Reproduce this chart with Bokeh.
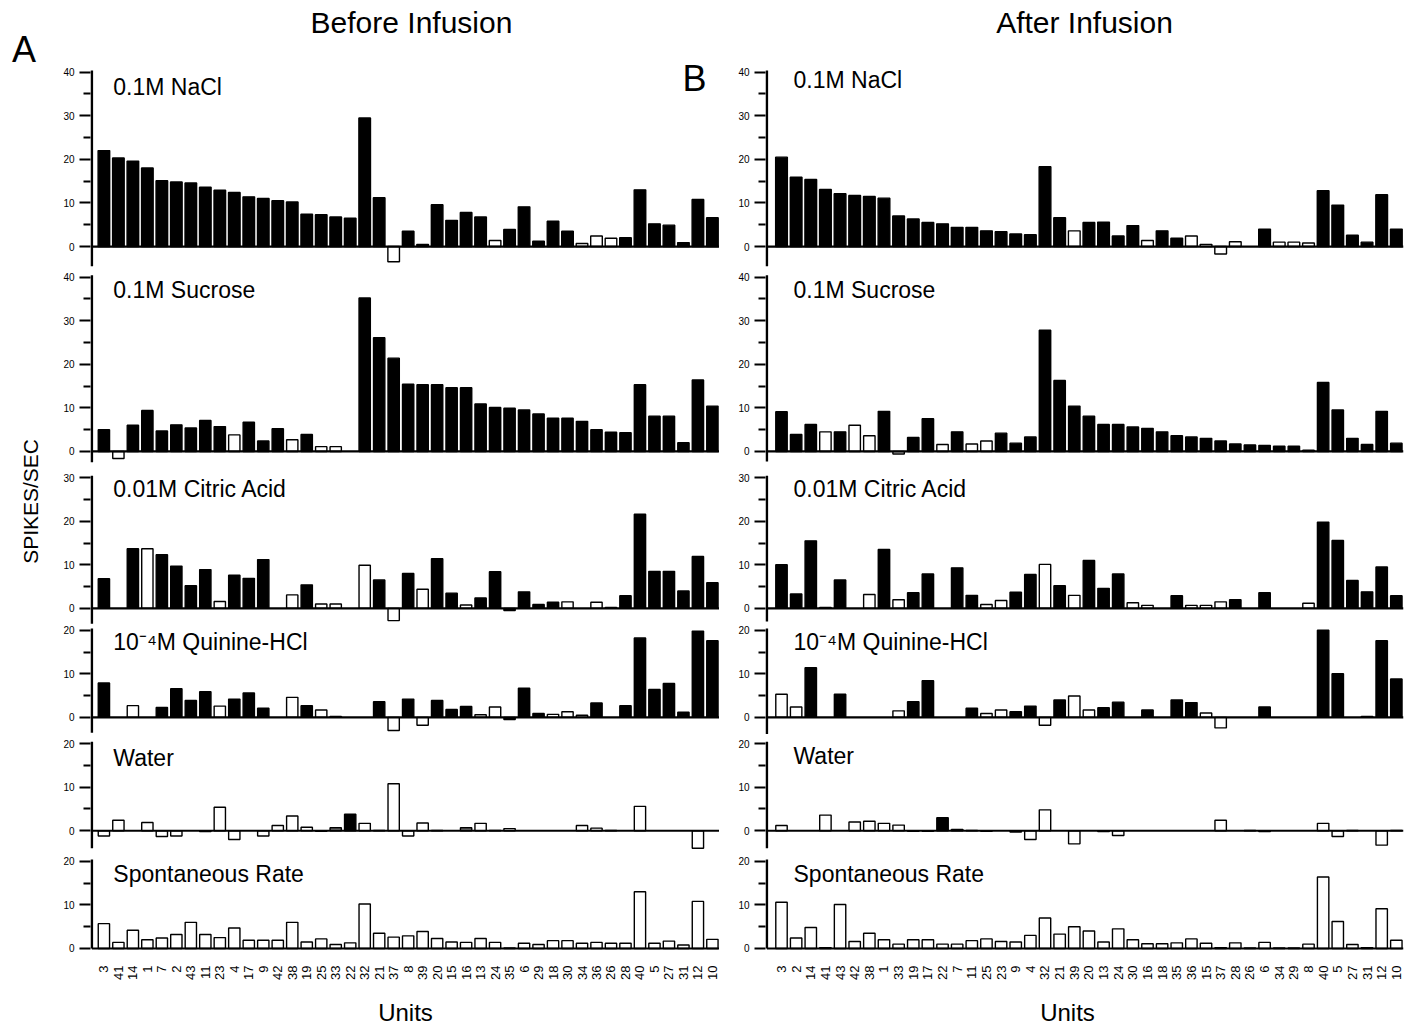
import math
from bokeh.plotting import figure
from bokeh.models import FixedTicker, Label, ColumnDataSource
from bokeh.layouts import row, column
from bokeh.embed import file_html
from bokeh.resources import INLINE

FONT = "Liberation Sans"

# ---------------- data ----------------
units_before = ["3", "41", "14", "1", "7", "2", "43", "11", "23", "4", "17", "9", "42", "38",
                "19", "25", "33", "22", "32", "21", "37", "8", "39", "20", "15", "16", "13", "24",
                "35", "6", "29", "18", "30", "34", "36", "26", "28", "40", "5", "27", "31", "12", "10"]
units_after = ["3", "2", "14", "41", "43", "42", "38", "1", "33", "19", "17", "22", "7", "11",
               "25", "23", "9", "4", "32", "21", "39", "20", "13", "24", "30", "16", "18", "35",
               "36", "15", "37", "28", "26", "6", "34", "29", "8", "40", "5", "27", "31", "12", "10"]

stimuli = ["0.1M NaCl", "0.1M Sucrose", "0.01M Citric Acid",
           "10\u207b\u2074M Quinine-HCl", "Water", "Spontaneous Rate"]
y_max = [40, 40, 30, 20, 20, 20]

# Before infusion (spikes/sec)
nacl_before = [22.0, 20.3, 19.6, 18.0, 15.1, 14.8, 14.6, 13.6, 12.9, 12.4,
               11.4, 11.0, 10.5, 10.2, 7.4, 7.3, 6.8, 6.5, 29.5, 11.2,
               -3.5, 3.5, 0.5, 9.6, 6.0, 7.8, 6.8, 1.4, 3.9, 9.1,
               1.2, 5.8, 3.5, 0.7, 2.4, 1.9, 2.0, 13.0, 5.2, 4.9,
               0.9, 10.8, 6.6]
sucrose_before = [5.0, -1.6, 6.0, 9.4, 4.7, 6.1, 5.4, 7.1, 5.7, 3.8,
                  6.7, 2.4, 5.2, 2.7, 3.9, 1.1, 1.1, 0.0, 35.2, 26.1,
                  21.4, 15.4, 15.3, 15.3, 14.6, 14.6, 10.9, 10.1, 9.9, 9.5,
                  8.6, 7.6, 7.6, 6.9, 5.0, 4.4, 4.3, 15.3, 8.1, 8.1,
                  2.0, 16.4, 10.4]
citric_before = [6.8, 0.0, 13.7, 13.7, 12.3, 9.7, 5.2, 8.9, 1.6, 7.6,
                 6.9, 11.2, 0.0, 3.1, 5.4, 1.0, 1.0, 0.0, 9.9, 6.5,
                 -2.8, 8.0, 4.4, 11.4, 3.5, 0.8, 2.4, 8.4, -0.5, 3.8,
                 0.9, 1.4, 1.5, 0.0, 1.4, 0.2, 2.9, 21.6, 8.5, 8.5,
                 4.0, 11.9, 5.9]
quinine_before = [7.9, 0.0, 2.7, 0.0, 2.3, 6.6, 3.9, 5.9, 2.6, 4.2,
                  5.6, 2.1, 0.0, 4.6, 2.7, 1.7, 0.2, 0.0, 0.0, 3.6,
                  -3.0, 4.2, -1.8, 3.9, 1.8, 2.5, 0.6, 2.4, -0.5, 6.7,
                  0.9, 0.7, 1.3, 0.5, 3.3, 0.0, 2.7, 18.2, 6.4, 7.8,
                  1.2, 19.8, 17.6]
water_before = [-1.2, 2.4, 0.0, 1.9, -1.3, -1.2, 0.0, -0.2, 5.4, -2.0,
                0.0, -1.2, 1.2, 3.4, 0.8, -0.1, 0.7, 3.8, 1.7, 0.1,
                10.8, -1.2, 1.8, 0.1, 0.0, 0.7, 1.7, 0.1, 0.5, 0.0,
                0.0, 0.0, 0.0, 1.2, 0.6, 0.1, 0.0, 5.6, 0.0, 0.0,
                0.0, -4.0, 0.0]
spont_before = [5.7, 1.4, 4.2, 2.0, 2.4, 3.2, 6.0, 3.2, 2.5, 4.7,
                1.9, 1.9, 1.9, 6.0, 1.5, 2.2, 0.9, 1.3, 10.2, 3.5,
                2.6, 2.9, 3.9, 2.3, 1.5, 1.4, 2.3, 1.4, 0.1, 1.2,
                0.9, 1.8, 1.8, 1.2, 1.4, 1.2, 1.2, 13.0, 1.2, 1.7,
                0.8, 10.8, 2.1]

# After infusion (spikes/sec)
nacl_after = [20.5, 15.9, 15.4, 13.1, 12.1, 11.7, 11.5, 11.1, 7.0, 6.3,
              5.5, 5.2, 4.4, 4.4, 3.6, 3.4, 2.9, 2.7, 18.3, 6.6,
              3.6, 5.5, 5.6, 2.4, 4.8, 1.4, 3.6, 1.9, 2.4, 0.5,
              -1.7, 1.1, 0.0, 4.0, 1.0, 1.0, 0.8, 12.8, 9.5, 2.6,
              1.0, 11.9, 4.0]
sucrose_after = [9.1, 3.9, 6.2, 4.5, 4.5, 6.0, 3.6, 9.2, -0.6, 3.2,
                 7.5, 1.6, 4.5, 1.7, 2.4, 4.2, 1.9, 3.3, 27.8, 16.3,
                 10.4, 8.1, 6.2, 6.2, 5.6, 5.3, 4.5, 3.6, 3.3, 3.0,
                 2.4, 1.7, 1.5, 1.4, 1.2, 1.2, 0.3, 15.8, 9.5, 3.0,
                 1.6, 9.2, 1.9]
citric_after = [10.0, 3.3, 15.5, 0.2, 6.5, 0.0, 3.2, 13.5, 2.0, 3.6,
                7.9, 0.0, 9.3, 3.0, 0.9, 1.8, 3.7, 7.8, 10.1, 5.2,
                3.0, 11.0, 4.6, 7.9, 1.3, 0.7, 0.0, 2.9, 0.7, 0.7,
                1.5, 2.0, 0.0, 3.6, 0.0, 0.0, 1.2, 19.8, 15.6, 6.4,
                3.8, 9.5, 2.9]
quinine_after = [5.3, 2.4, 11.4, 0.0, 5.3, 0.0, 0.0, 0.0, 1.5, 3.6,
                 8.4, 0.0, 0.0, 2.1, 0.9, 1.7, 1.3, 2.6, -1.8, 4.0,
                 4.9, 1.7, 2.2, 3.5, 0.0, 1.7, 0.0, 4.0, 3.4, 1.0,
                 -2.4, 0.0, 0.0, 2.4, 0.0, 0.0, 0.0, 20.0, 10.0, 0.0,
                 0.2, 17.6, 8.8]
water_after = [1.2, 0.0, 0.0, 3.6, 0.0, 2.0, 2.2, 1.7, 1.3, -0.1,
               -0.1, 3.0, 0.3, 0.1, -0.1, 0.0, -0.3, -2.0, 4.8, 0.0,
               -3.0, 0.0, -0.2, -1.1, 0.0, 0.0, 0.0, 0.0, 0.0, 0.0,
               2.4, 0.0, 0.1, -0.2, 0.0, 0.0, 0.0, 1.7, -1.3, 0.1,
               0.0, -3.3, 0.1]
spont_after = [10.6, 2.4, 4.8, 0.2, 10.1, 1.6, 3.5, 2.0, 1.0, 2.0,
               2.0, 1.0, 1.0, 1.8, 2.2, 1.6, 1.5, 3.0, 7.0, 3.3,
               5.0, 4.0, 1.5, 4.5, 2.0, 1.1, 1.1, 1.3, 2.2, 1.2,
               0.2, 1.3, 0.1, 1.4, 0.1, 0.1, 1.0, 16.4, 6.2, 0.9,
               0.2, 9.1, 1.9]

# open (non-significant) bars, 1-based positions along the unit axis
open_before = {
    "nacl": [21, 28, 34, 35, 36],
    "sucrose": [2, 10, 14, 16, 17],
    "citric": [4, 9, 14, 16, 17, 19, 21, 23, 26, 33, 35, 36],
    "quinine": [3, 9, 14, 16, 17, 21, 23, 27, 28, 32, 33, 34],
}
open_after = {
    "nacl": [21, 26, 29, 30, 31, 32, 35, 36, 37],
    "sucrose": [4, 6, 7, 9, 12, 14, 15],
    "citric": [7, 9, 15, 16, 19, 21, 25, 26, 29, 30, 31, 37],
    "quinine": [1, 2, 9, 15, 16, 19, 21, 22, 30, 31],
}
water_filled_before = [18]
water_grey_before = [17, 26]
water_filled_after = [12]

# ---------------- layout constants ----------------
OFFSETS = [161, 114, 78, 53, 27, 0]          # vertical stacking of the six panels
AXIS_BOTTOM_L = [-4.5, -2.5, -3.5, -3.5, -4.0, 0.0]
AXIS_BOTTOM_R = [-4.5, -2.3, -3.0, -3.8, -4.0, 0.0]
MAIN_H = 990
Y_START, Y_END = -0.46, 217.43
X_END = 43.49
BLACK, WHITE, GREY = "#000000", "#ffffff", "#7a7a7a"


def fills(n, open_pos=None, filled_pos=None, grey_pos=()):
    out = []
    for i in range(1, n + 1):
        if i in grey_pos:
            out.append(GREY)
        elif filled_pos is not None:
            out.append(BLACK if i in filled_pos else WHITE)
        else:
            out.append(WHITE if i in open_pos else BLACK)
    return out


N = len(units_before)
before_values = [nacl_before, sucrose_before, citric_before, quinine_before, water_before, spont_before]
after_values = [nacl_after, sucrose_after, citric_after, quinine_after, water_after, spont_after]
before_fills = [fills(N, open_before["nacl"]), fills(N, open_before["sucrose"]),
                fills(N, open_before["citric"]), fills(N, open_before["quinine"]),
                fills(N, filled_pos=water_filled_before, grey_pos=water_grey_before),
                fills(N, filled_pos=[])]
after_fills = [fills(N, open_after["nacl"]), fills(N, open_after["sucrose"]),
               fills(N, open_after["citric"]), fills(N, open_after["quinine"]),
               fills(N, filled_pos=water_filled_after),
               fills(N, filled_pos=[])]


def text_label(**kw):
    kw.setdefault("text_font", FONT)
    kw.setdefault("text_color", "black")
    kw.setdefault("text_baseline", "middle")
    return Label(**kw)


def bare_figure(width, height, x_range, y_range):
    f = figure(width=width, height=height, x_range=x_range, y_range=y_range,
               output_backend="svg", toolbar_location=None,
               min_border=0, outline_line_color=None)
    f.axis.visible = False
    f.grid.visible = False
    return f


def make_column(units, values, fill_list, axis_bottoms, width, border_left, border_right,
                x_start, title, title_x, label_x, label_dy):
    p = figure(width=width, height=MAIN_H, x_range=(x_start, X_END), y_range=(Y_START, Y_END),
               output_backend="svg", toolbar_location=None,
               min_border_left=border_left, min_border_right=border_right,
               min_border_top=0, min_border_bottom=40, outline_line_color=None)
    p.grid.visible = False

    axis_x = x_start + 0.09
    major, minor, overrides = [], [], {}
    for k in range(6):
        off = OFFSETS[k]
        vals = values[k]
        xs, tops, bots, cols = [], [], [], []
        for i, v in enumerate(vals):
            if v == 0:
                continue
            xs.append(i + 1)
            tops.append(off + v)
            bots.append(off)
            cols.append(fill_list[k][i])
        src = ColumnDataSource(dict(x=xs, top=tops, bottom=bots, fill=cols))
        p.vbar(x="x", top="top", bottom="bottom", width=0.8 if k == 0 else 0.78, source=src,
               fill_color="fill", line_color="black", line_width=1.4)
        # zero baseline
        p.segment(x0=[axis_x], y0=[off], x1=[X_END], y1=[off], line_color="black", line_width=2.2)
        # axis line of this panel
        p.segment(x0=[axis_x], y0=[off + axis_bottoms[k]], x1=[axis_x], y1=[off + y_max[k] + 0.4],
                  line_color="black", line_width=2.6)
        for t in range(0, y_max[k] + 1, 10):
            major.append(off + t)
            overrides[off + t] = str(t)
        for t in range(5, y_max[k], 10):
            minor.append(off + t)
        p.add_layout(text_label(x=label_x, y=off + y_max[k] - label_dy[k], text=stimuli[k],
                                text_font_size="23px", text_align="left"))

    yax = p.yaxis[0]
    yax.ticker = FixedTicker(ticks=major, minor_ticks=minor)
    yax.major_label_overrides = overrides
    yax.axis_line_color = None
    yax.major_tick_out = 11
    yax.major_tick_in = 0
    yax.minor_tick_out = 7
    yax.minor_tick_in = 0
    yax.major_tick_line_width = 2
    yax.minor_tick_line_width = 2
    yax.major_label_standoff = 5
    yax.major_label_text_font = FONT
    yax.major_label_text_font_size = "10px"
    yax.major_label_text_color = "black"

    xax = p.xaxis[0]
    xax.ticker = FixedTicker(ticks=list(range(1, N + 1)))
    xax.major_label_overrides = {i + 1: u for i, u in enumerate(units)}
    xax.major_label_orientation = math.pi / 2
    xax.axis_line_color = None
    xax.major_tick_line_color = None
    xax.minor_tick_line_color = None
    xax.major_label_standoff = 9
    xax.major_label_text_font = FONT
    xax.major_label_text_font_size = "13px"
    xax.major_label_text_color = "black"

    p.add_layout(text_label(x=title_x, y=212.4, text=title,
                            text_font_size="30px", text_align="center"))
    return p


left = make_column(units_before, before_values, before_fills, AXIS_BOTTOM_L,
                   width=659, border_left=30, border_right=0, x_start=0.075,
                   title="Before Infusion", title_x=22.23, label_x=1.65,
                   label_dy=[3.4, 3.0, 2.6, 2.8, 3.2, 2.8])
right = make_column(units_after, after_values, after_fills, AXIS_BOTTOM_R,
                    width=692, border_left=46, border_right=8, x_start=-0.093,
                    title="After Infusion", title_x=21.70, label_x=1.82,
                    label_dy=[1.8, 3.0, 2.6, 2.8, 2.8, 2.8])

left.add_layout(text_label(x=41.76, y=199.5, text="B", text_font_size="36px", text_align="center"))

# side strip: panel letter and the y-axis title (pixel-like ranges, top-down)
side = bare_figure(60, MAIN_H, (0, 60), (MAIN_H, 0))
side.add_layout(text_label(x=23.5, y=51.5, text="A", text_font_size="36px", text_align="center"))
side.add_layout(text_label(x=30, y=522, text="SPIKES/SEC", text_font_size="21px",
                           text_align="center", angle=math.pi / 2))

# bottom strip: x-axis titles
bottom = bare_figure(1411, 1026 - MAIN_H, (0, 1411), (1026, MAIN_H))
bottom.add_layout(text_label(x=405, y=1012, text="Units", text_font_size="24px", text_align="center"))
bottom.add_layout(text_label(x=1067, y=1012, text="Units", text_font_size="24px", text_align="center"))

layout = column(row(side, left, right, spacing=0), bottom, spacing=0)
open("out.html", "w").write(file_html(layout, INLINE))
